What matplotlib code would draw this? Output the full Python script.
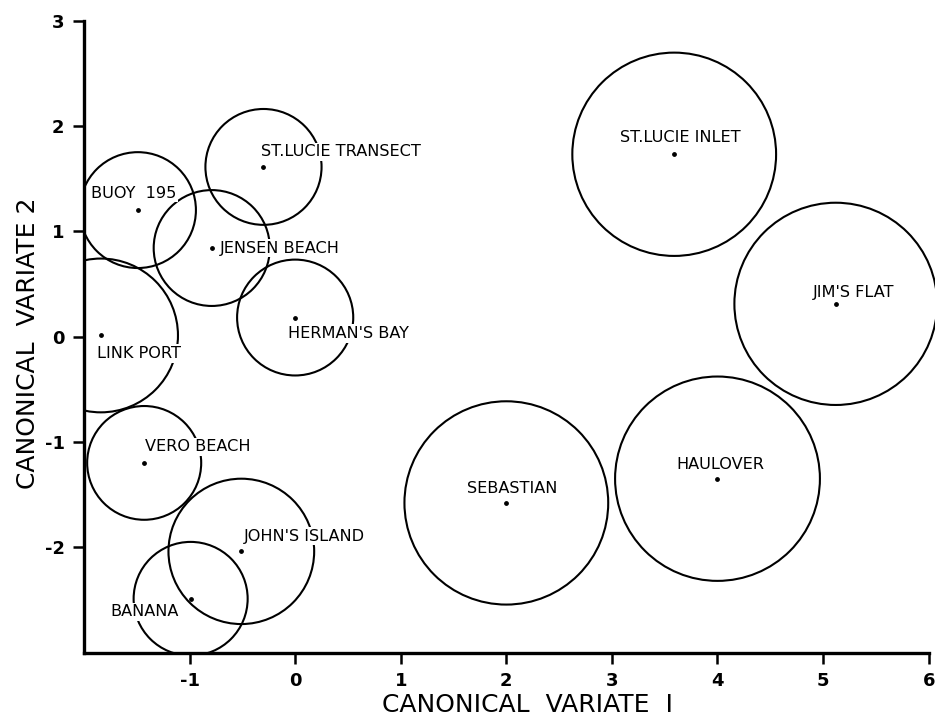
import matplotlib
matplotlib.use("Agg")
import matplotlib.pyplot as plt
from matplotlib.patches import Circle

plt.rcParams['font.family'] = ['DejaVu Sans']
plt.rcParams['axes.unicode_minus'] = False

# ---- data ----
stations = ["ST.LUCIE TRANSECT", "BUOY  195", "JENSEN BEACH", "HERMAN'S BAY",
            "LINK PORT", "VERO BEACH", "JOHN'S ISLAND", "BANANA",
            "SEBASTIAN", "HAULOVER", "ST.LUCIE INLET", "JIM'S FLAT"]
cv1 = [-0.30, -1.49, -0.79, 0.00, -1.84, -1.43, -0.51, -0.99, 2.00, 4.00, 3.59, 5.12]
cv2 = [1.61, 1.20, 0.84, 0.18, 0.01, -1.20, -2.04, -2.49, -1.58, -1.35, 1.73, 0.31]
radius = [0.55, 0.55, 0.55, 0.55, 0.73, 0.54, 0.69, 0.54, 0.965, 0.97, 0.965, 0.96]
xticks = [-1, 0, 1, 2, 3, 4, 5, 6]
yticks = [-2, -1, 0, 1, 2, 3]

# label placement (pixel offsets of left edge / vertical centre from the point)
label_dx = [-2, -47, 8, -7, -4, 1, 2, -80, -39, -41, -54, -23]
label_dy = [15, 17, 0, -16, -18, 16, 15, -13, 14, 14, 16.5, 11.5]

fig = plt.figure(figsize=(9.35, 7.22), dpi=100)
ax = fig.add_axes([84/935, 69.5/722, 851/935, 632/722])
ax.set_xlim(-2, 6.06)
ax.set_ylim(-3, 3)

for x, y, r in zip(cv1, cv2, radius):
    ax.add_patch(Circle((x, y), r, fill=False, ec='black', lw=1.5, zorder=2))
ax.scatter(cv1, cv2, s=6, color='black', zorder=4)

for name, x, y, dx, dy in zip(stations, cv1, cv2, label_dx, label_dy):
    ax.annotate(name, (x, y), xytext=(dx, dy), textcoords='offset pixels',
                ha='left', va='center', fontsize=11.6, color='black', zorder=3,
                bbox=dict(boxstyle='square,pad=0.1', fc='white', ec='none'))

for s in ['top', 'right']:
    ax.spines[s].set_visible(False)
for s in ['left', 'bottom']:
    ax.spines[s].set_linewidth(2.4)
ax.spines['bottom'].set_bounds(-2, 6)

ax.set_xticks(xticks)
ax.set_yticks(yticks)
ax.set_xticklabels([str(t) for t in xticks])
ax.set_yticklabels([str(t) for t in yticks])
ax.tick_params(direction='out', length=8, width=1.8, labelsize=13, pad=6)
for lab in ax.get_xticklabels() + ax.get_yticklabels():
    lab.set_fontweight('bold')

ax.set_xlabel("CANONICAL  VARIATE  I", fontsize=18)
ax.set_ylabel("CANONICAL  VARIATE 2", fontsize=18)
ax.xaxis.set_label_coords((528-84)/851, (652.5-705)/632)
ax.xaxis.label.set_va('center')
ax.yaxis.set_label_coords((28-84)/851, (652.5-343)/632)
ax.yaxis.label.set_va('center')

fig.savefig("out.png", dpi=100)
